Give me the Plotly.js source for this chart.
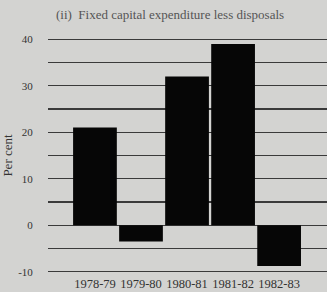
<!DOCTYPE html>
<html><head><meta charset="utf-8">
<script src="https://cdn.plot.ly/plotly-3.0.1.min.js"></script>
<style>html,body{margin:0;padding:0;background:#d3d3d1;}</style>
</head><body>
<div id="chart" style="width:327px;height:292px;"></div>
<script>
const categories = ['1978-79','1979-80','1980-81','1981-82','1982-83'];
const values = [21, -3.5, 32, 39, -8.8];
const yTickVals = [-10,-5,0,5,10,15,20,25,30,35,40];
const yTickText = ['-10','','0','','10','','20','','30','','40'];
const titleText = '(ii)  Fixed capital expenditure less disposals';
const yTitle = 'Per cent';

const font = {family: 'Liberation Serif, DejaVu Serif, serif', color: '#2a2a2a'};
Plotly.newPlot('chart', [{
  type: 'bar', x: [0,1,2,3,4], y: values,
  marker: {color: '#060606', line: {width: 0}},
  width: 0.95, hoverinfo: 'none'
}], {
  width: 327, height: 292,
  margin: {l: 48, r: 0, t: 37, b: 18},
  paper_bgcolor: '#d3d3d1', plot_bgcolor: '#d3d3d1',
  showlegend: false,
  title: {text: titleText, x: 0.52, xanchor: 'center', y: 0.95, yanchor: 'middle',
          font: Object.assign({}, font, {size: 13, color: '#555'})},
  xaxis: {range: [-1.02, 5.04], tickvals: [0,1,2,3,4], ticktext: categories,
          showgrid: false, zeroline: false, showline: false, ticks: '',
          tickfont: Object.assign({}, font, {size: 12.5, color: '#333'}), fixedrange: true},
  yaxis: {range: [-10.5, 40.5], tickvals: yTickVals, ticktext: yTickText,
          showgrid: true, gridcolor: '#3a3a3a', gridwidth: 1.3,
          zeroline: true, zerolinecolor: '#3a3a3a', zerolinewidth: 1.3,
          showline: false, ticks: 'outside', ticklen: 12, tickcolor: 'rgba(0,0,0,0)',
          tickfont: Object.assign({}, font, {size: 11, color: '#333'}),
          title: {text: yTitle, standoff: 4, font: Object.assign({}, font, {size: 13, color: '#333'})},
          fixedrange: true}
}, {displayModeBar: false, staticPlot: true});
</script>
</body></html>
